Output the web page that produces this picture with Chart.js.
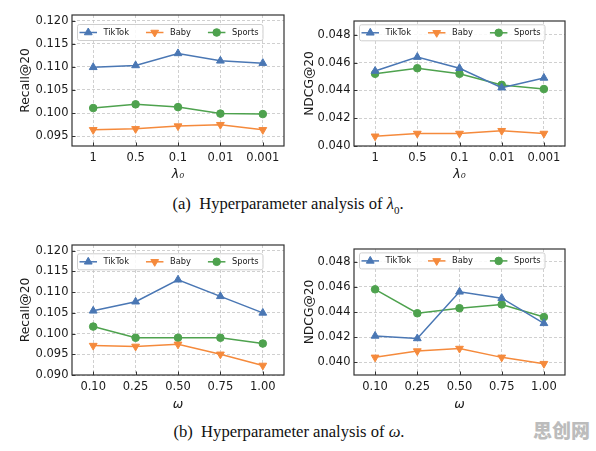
<!DOCTYPE html>
<html>
<head>
<meta charset="utf-8">
<script src="https://cdn.jsdelivr.net/npm/chart.js@4.4.0/dist/chart.umd.min.js"></script>
<style>
  body { margin: 0; background: #fff; width: 596px; height: 451px; position: relative; overflow: hidden; }
  canvas { position: absolute; }
  .cap { position: absolute; transform: translate(-50%, -50%); font-family: 'Liberation Serif', 'DejaVu Serif', serif; font-size: 16.6px; color: #111; white-space: nowrap; }
  .wm { position: absolute; left: 533px; top: 418px; width: 60px; font-family: 'Noto Sans CJK SC'; font-weight: 900; font-size: 19px; line-height: 24px; color: #bcbcbc; white-space: nowrap; }
</style>
</head>
<body>
<canvas id="c1" width="298" height="185" style="left:0;top:0"></canvas>
<canvas id="c2" width="298" height="185" style="left:298px;top:0"></canvas>
<canvas id="c3" width="298" height="185" style="left:0;top:230px"></canvas>
<canvas id="c4" width="298" height="185" style="left:298px;top:230px"></canvas>
<div class="cap" style="left:288px;top:205px">(a)&nbsp; Hyperparameter analysis of <i>λ</i><sub style="font-size:11px">0</sub>.</div>
<div class="cap" style="left:289px;top:432px">(b)&nbsp; Hyperparameter analysis of <i>ω</i>.</div>
<div class="wm">思创网</div>
<script>
// x categories
const lambdaLabels = ['1', '0.5', '0.1', '0.01', '0.001'];
const omegaLabels = ['0.10', '0.25', '0.50', '0.75', '1.00'];

// (a) lambda_0
const recallLambdaTikTok = [0.1099, 0.1103, 0.1129, 0.1113, 0.1108];
const recallLambdaBaby = [0.0964, 0.0966, 0.0972, 0.0975, 0.0964];
const recallLambdaSports = [0.1011, 0.1019, 0.1013, 0.0999, 0.0998];
const ndcgLambdaTikTok = [0.0454, 0.0464, 0.0456, 0.0442, 0.0449];
const ndcgLambdaBaby = [0.0407, 0.0409, 0.0409, 0.0411, 0.0409];
const ndcgLambdaSports = [0.0452, 0.0456, 0.0452, 0.0444, 0.0441];

// (b) omega
const recallOmegaTikTok = [0.1055, 0.1077, 0.1130, 0.1090, 0.1050];
const recallOmegaBaby = [0.0971, 0.0969, 0.0974, 0.0950, 0.0923];
const recallOmegaSports = [0.1017, 0.0990, 0.0990, 0.0990, 0.0976];
const ndcgOmegaTikTok = [0.0421, 0.0419, 0.0456, 0.0451, 0.0431];
const ndcgOmegaBaby = [0.0404, 0.0409, 0.0411, 0.0404, 0.0399];
const ndcgOmegaSports = [0.0458, 0.0439, 0.0443, 0.0446, 0.0436];

// y tick labels
const recallTicksA = [0.095, 0.100, 0.105, 0.110, 0.115, 0.120];
const recallTicksB = [0.090, 0.095, 0.100, 0.105, 0.110, 0.115, 0.120];
const ndcgTicks = [0.040, 0.042, 0.044, 0.046, 0.048];

const BLUE = '#4a77b4', ORANGE = '#f58a3c', GREEN = '#4ea24e';
Chart.defaults.font.family = 'DejaVu Sans';
Chart.defaults.color = '#1a1a1a';

// legend drawn inside the plot, matplotlib style (line + marker)
const insideLegend = {
  id: 'insideLegend',
  afterDraw(chart, args, opts) {
    const ctx = chart.ctx, a = chart.chartArea;
    const x0 = a.left + 5, y0 = a.top + opts.dy, h = 16;
    ctx.save();
    ctx.font = '8.3px DejaVu Sans';
    let x = x0 + 2.5;
    const items = chart.data.datasets.map(ds => {
      const it = { ds, x };
      x += 24 + ctx.measureText(ds.label).width;
      it.end = x;
      x += 17;
      return it;
    });
    const w = items[items.length - 1].end + 4 - x0;
    ctx.fillStyle = 'rgba(255,255,255,0.85)';
    ctx.strokeStyle = '#cfcfcf';
    ctx.lineWidth = 1;
    ctx.beginPath();
    ctx.roundRect(x0 + 0.5, y0 + 0.5, w, h, 2);
    ctx.fill();
    ctx.stroke();
    const cy = y0 + h / 2 + 0.5;
    items.forEach(it => {
      const ds = it.ds;
      ctx.strokeStyle = ds.borderColor;
      ctx.lineWidth = 1.5;
      ctx.beginPath();
      ctx.moveTo(it.x, cy);
      ctx.lineTo(it.x + 17.5, cy);
      ctx.stroke();
      ctx.fillStyle = ds.backgroundColor;
      ctx.lineWidth = 1;
      Chart.helpers.drawPoint(ctx, { pointStyle: ds.pointStyle, rotation: ds.pointRotation || 0, radius: ds.pointRadius, borderWidth: 1 }, it.x + 8.75, cy);
      ctx.fillStyle = '#1a1a1a';
      ctx.textBaseline = 'middle';
      ctx.fillText(ds.label, it.x + 24, cy);
    });
    ctx.restore();
  }
};

// frame box and inward ticks
const frameTicks = {
  id: 'frameTicks',
  afterDraw(chart) {
    const { ctx, chartArea: a, scales: { x, y } } = chart;
    ctx.save();
    ctx.strokeStyle = '#333';
    ctx.lineWidth = 1;
    ctx.beginPath();
    x.ticks.forEach((t, i) => {
      const px = Math.round(x.getPixelForTick(i)) + 0.5;
      ctx.moveTo(px, a.bottom); ctx.lineTo(px, a.bottom - 3.5);
    });
    y.ticks.forEach((t, i) => {
      const py = Math.round(y.getPixelForTick(i)) + 0.5;
      ctx.moveTo(a.left, py); ctx.lineTo(a.left + 3.5, py);
    });
    ctx.stroke();
    ctx.lineWidth = 1.2;
    ctx.strokeRect(a.left, a.top, a.right - a.left, a.bottom - a.top);
    ctx.restore();
  }
};

function series(label, data, color, style, rot, r) {
  return {
    label: label, data: data,
    borderColor: color, backgroundColor: color,
    borderWidth: 1.5, pointStyle: style, pointRotation: rot, pointRadius: r,
    pointBorderWidth: 1, pointHoverRadius: r, tension: 0
  };
}

function makeChart(id, labels, tiktok, baby, sports, yTicks, yMin, yMax, yTitle, xTitle, box) {
  const cv = document.getElementById(id);
  new Chart(cv, {
    type: 'line',
    data: {
      labels: labels,
      datasets: [
        series('TikTok', tiktok, BLUE, 'triangle', 0, 4.5),
        series('Baby', baby, ORANGE, 'triangle', 180, 4.5),
        series('Sports', sports, GREEN, 'circle', 0, 3.8)
      ]
    },
    options: {
      responsive: false,
      animation: false,
      layout: { padding: { left: 0, top: box.top, right: cv.width - box.right, bottom: 0 } },
      plugins: { legend: { display: false }, tooltip: { enabled: false }, insideLegend: { dy: box.dy } },
      scales: {
        x: {
          offset: true,
          grid: { offset: false, color: '#c4c4c4', lineWidth: 0.8, drawTicks: false },
          border: { display: false, dash: [3, 2] },
          ticks: { font: { size: 11.5 }, padding: 5, maxRotation: 0 },
          title: { display: true, text: xTitle, font: { size: 12.5, style: 'italic' }, padding: { top: 0, bottom: 2.5 } },
          afterFit: s => { s.height = cv.height - box.bottom; }
        },
        y: {
          min: yMin, max: yMax,
          afterBuildTicks: s => { s.ticks = yTicks.map(v => ({ value: v })); },
          grid: { color: '#c4c4c4', lineWidth: 0.8, drawTicks: false },
          border: { display: false, dash: [3, 2] },
          ticks: { font: { size: 11.5 }, padding: 3.5, callback: v => v.toFixed(3) },
          title: { display: true, text: yTitle, font: { size: 12.3 }, padding: { top: box.tp, bottom: 0 } },
          afterFit: s => { s.width = box.left; }
        }
      }
    },
    plugins: [insideLegend, frameTicks]
  });
}

makeChart('c1', lambdaLabels, recallLambdaTikTok, recallLambdaBaby, recallLambdaSports,
  recallTicksA, 0.0929, 0.1212, 'Recall@20', 'λ₀', { left: 72, right: 284, top: 15, bottom: 146, dy: 9, tp: 18.5 });
makeChart('c2', lambdaLabels, ndcgLambdaTikTok, ndcgLambdaBaby, ndcgLambdaSports,
  ndcgTicks, 0.0400, 0.0490, 'NDCG@20', 'λ₀', { left: 56, right: 267, top: 21, bottom: 146, dy: 3.3, tp: 4.5 });
makeChart('c3', omegaLabels, recallOmegaTikTok, recallOmegaBaby, recallOmegaSports,
  recallTicksB, 0.0900, 0.1214, 'Recall@20', 'ω', { left: 72, right: 284, top: 15, bottom: 145, dy: 8.3, tp: 18.5 });
makeChart('c4', omegaLabels, ndcgOmegaTikTok, ndcgOmegaBaby, ndcgOmegaSports,
  ndcgTicks, 0.0390, 0.0490, 'NDCG@20', 'ω', { left: 56, right: 267, top: 19, bottom: 145, dy: 3.4, tp: 4.5 });
</script>
</body>
</html>
